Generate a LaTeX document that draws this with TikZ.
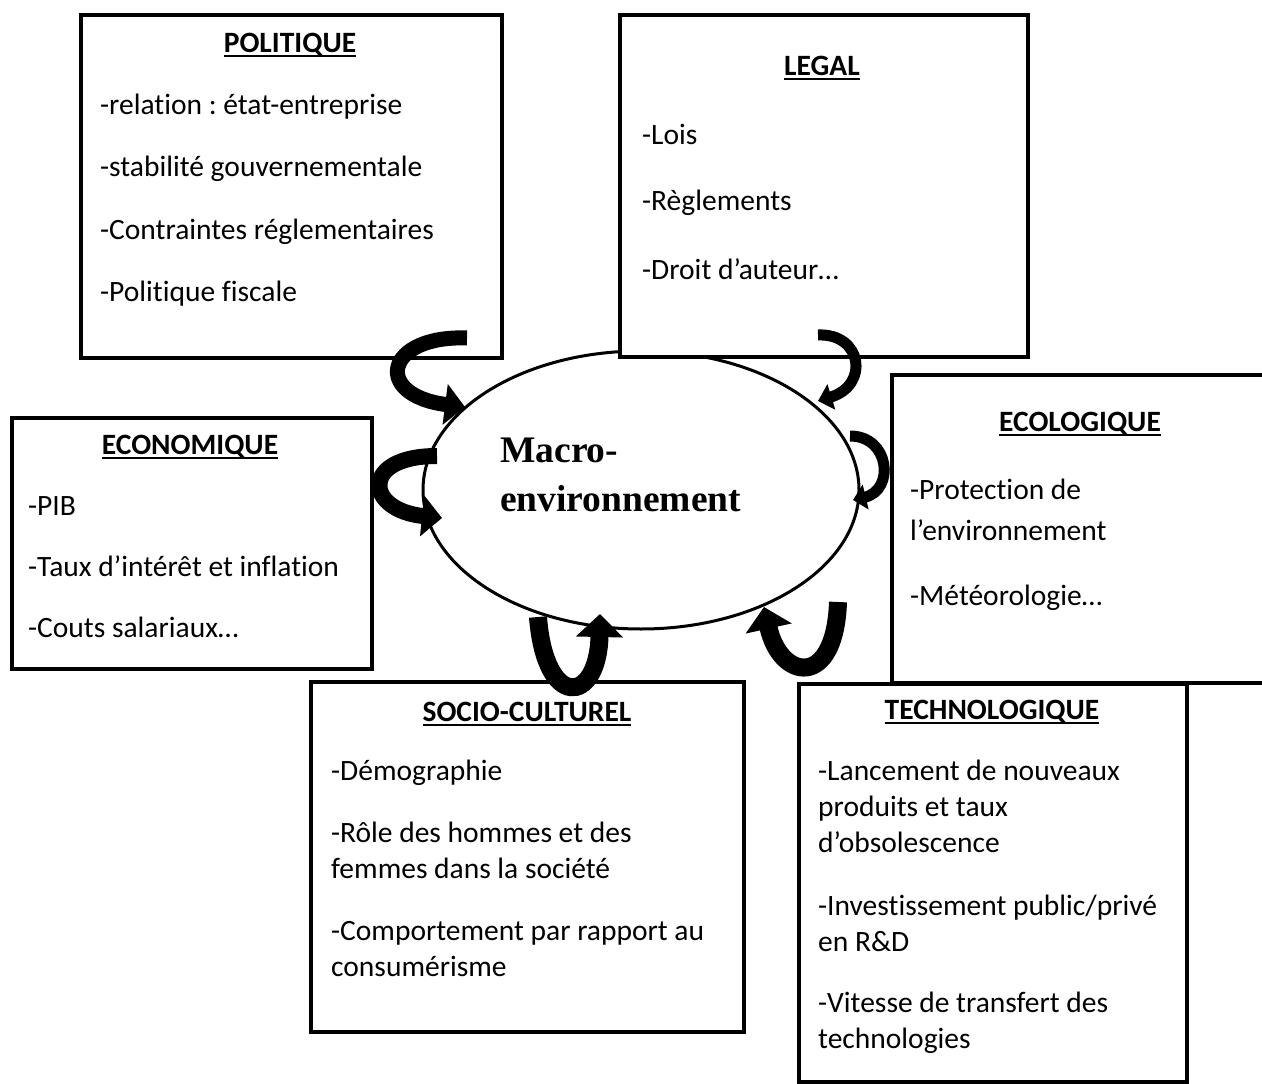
\documentclass[tikz,border=0pt]{standalone}
\usepackage{fontspec}
\setmainfont{Carlito}[Ligatures=NoCommon]
\newfontfamily\macrofont{Liberation Serif}
\usetikzlibrary{arrows.meta,shapes.geometric}
\newcommand\myul[1]{\setbox0\hbox{#1}\rlap{\rule[-4.5pt]{\wd0}{2.4pt}}\box0}
\frenchspacing
\begin{document}
\begin{tikzpicture}[x=1pt,y=-1pt,
  box/.style={draw, line width=4pt, fill=white, inner sep=0pt, anchor=north west},
  ttl/.style={font=\fontsize{29.5}{36}\selectfont\bfseries, inner sep=0pt, text height=21pt, text depth=6pt, anchor=center},
  ln/.style={font=\fontsize{29.5}{36}\selectfont, inner sep=0pt, text height=21pt, text depth=6pt, anchor=west},
  curv/.style={line width=#1, line cap=butt},
]
\useasboundingbox (0,0) rectangle (1262,1084);
\clip (0,0) rectangle (1262,1084);

% ellipse
\node[draw, ellipse, line width=3pt, minimum width=436pt, minimum height=278pt, inner sep=0pt] (mac) at (641,490) {};
\node[anchor=west, align=left, inner sep=0pt, font=\macrofont\bfseries\fontsize{37.5}{49}\selectfont] (mactext) at (500,475) {Macro-\\environnement};

% boxes
\node[box, minimum width=421pt, minimum height=343pt] (pol) at (79,13) {};
\node[box, minimum width=408pt, minimum height=342pt] (leg) at (618,13) {};
\node[box, minimum width=360pt, minimum height=251pt] (eco) at (10,416) {};
\node[box, minimum width=385pt, minimum height=308pt] (ecol) at (890,373) {};
\node[box, minimum width=433pt, minimum height=350pt] (soc) at (309,680) {};
\node[box, minimum width=388pt, minimum height=398pt] (tec) at (797,682) {};

% POLITIQUE
\node[ttl] (polt) at (290,45) {\myul{POLITIQUE}};
\node[ln] (pol1) at (100,107) {-relation : état-entreprise};
\node[ln] (pol2) at (100,169) {-stabilité gouvernementale};
\node[ln] (pol3) at (100,232) {-Contraintes réglementaires};
\node[ln] (pol4) at (100,294) {-Politique fiscale};

% LEGAL
\node[ttl] (legt) at (822,68) {\myul{LEGAL}};
\node[ln] (leg1) at (642,137) {-Lois};
\node[ln] (leg2) at (642,203) {-Règlements};
\node[ln] (leg3) at (642,272) {-Droit d’auteur…};

% ECONOMIQUE
\node[ttl] (ecot) at (190,447) {\myul{ECONOMIQUE}};
\node[ln] (eco1) at (28,508) {-PIB};
\node[ln] (eco2) at (28,569) {-Taux d’intérêt et inflation};
\node[ln] (eco3) at (28,630) {-Couts salariaux…};

% ECOLOGIQUE
\node[ttl] (ecolt) at (1080,424) {\myul{ECOLOGIQUE}};
\node[ln] (ecol1) at (910,492) {-Protection de};
\node[ln] (ecol2) at (910,533) {l’environnement};
\node[ln] (ecol3) at (910,598) {-Météorologie…};

% SOCIO-CULTUREL
\node[ttl] (soct) at (527,714) {\myul{SOCIO-CULTUREL}};
\node[ln] (soc1) at (331,773) {-Démographie};
\node[ln] (soc2) at (331,835) {-Rôle des hommes et des};
\node[ln] (soc3) at (331,871) {femmes dans la société};
\node[ln] (soc4) at (331,933) {-Comportement par rapport au};
\node[ln] (soc5) at (331,969) {consumérisme};

% TECHNOLOGIQUE
\node[ttl] (tect) at (992,712) {\myul{TECHNOLOGIQUE}};
\node[ln] (tec1) at (818,773) {-Lancement de nouveaux};
\node[ln] (tec2) at (818,809) {produits et taux};
\node[ln] (tec3) at (818,845) {d’obsolescence};
\node[ln] (tec4) at (818,908) {-Investissement public/privé};
\node[ln] (tec5) at (818,944) {en R\&D};
\node[ln] (tec6) at (818,1005) {-Vitesse de transfert des};
\node[ln] (tec7) at (818,1041) {technologies};

% curved arrows
\coordinate (a1s) at (467,338); \coordinate (a1e) at (465,407);
\coordinate (a2s) at (818,335); \coordinate (a2e) at (818,401);
\coordinate (a3s) at (850,436); \coordinate (a3e) at (853,500);
\coordinate (a4s) at (437,456); \coordinate (a4e) at (442,518);
\coordinate (a5s) at (538,617); \coordinate (a5e) at (600,614);
\coordinate (a6s) at (838,602); \coordinate (a6e) at (764,607);

\draw[curv=15pt, -{Triangle[length=20pt,width=40pt]}] (a1s) .. controls (385,335) and (372,395) .. (a1e);
\draw[curv=11pt, -{Triangle[length=14pt,width=26pt]}] (a2s) .. controls (862,333) and (870,385) .. (a2e);
\draw[curv=11pt, -{Triangle[length=13pt,width=25pt]}] (a3s) .. controls (890,436) and (895,490) .. (a3e);
\draw[curv=16pt, -{Triangle[length=20pt,width=40pt]}] (a4s) .. controls (360,456) and (365,510) .. (a4e);
\draw[curv=18pt, -{Triangle[length=23pt,width=46pt]}] (a5s) .. controls (545,710) and (598,705) .. (a5e);
\draw[curv=18pt, -{Triangle[length=22pt,width=46pt]}] (a6s) .. controls (835,690) and (780,680) .. (a6e);
\end{tikzpicture}
\end{document}
